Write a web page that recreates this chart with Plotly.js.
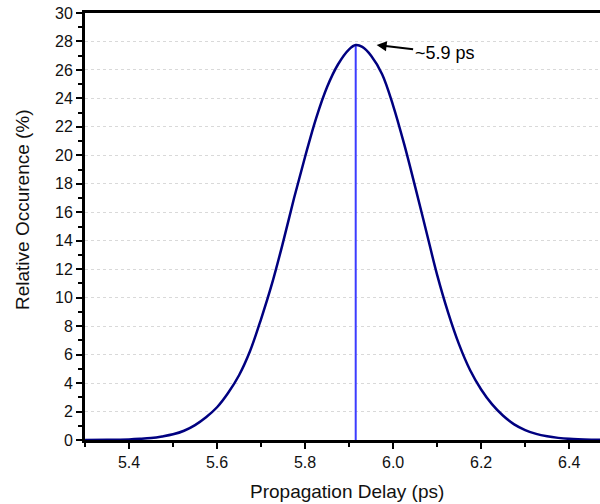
<!DOCTYPE html>
<html>
<head>
<meta charset="utf-8">
<script src="https://cdn.plot.ly/plotly-3.0.1.min.js"></script>
<style>html,body{margin:0;padding:0;background:#fff;}#chart{width:600px;height:504px;}</style>
</head>
<body>
<div id="chart"></div>
<script>
var delayPs = [5.30, 5.35, 5.40, 5.425, 5.45, 5.475, 5.50, 5.525, 5.55, 5.575, 5.60, 5.625, 5.65, 5.675, 5.70, 5.725, 5.75, 5.775, 5.80, 5.825, 5.85, 5.875, 5.90, 5.915, 5.93, 5.95, 5.975, 6.00, 6.025, 6.05, 6.075, 6.10, 6.125, 6.15, 6.175, 6.20, 6.225, 6.25, 6.275, 6.30, 6.325, 6.35, 6.375, 6.40, 6.45, 6.47];
var occurrence = [0.0, 0.01, 0.04, 0.08, 0.14, 0.25, 0.40, 0.65, 1.05, 1.6, 2.3, 3.3, 4.55, 6.25, 8.5, 11.0, 13.9, 17.0, 19.9, 22.6, 24.8, 26.4, 27.45, 27.75, 27.62, 27.0, 25.7, 23.5, 20.8, 17.8, 14.7, 11.6, 8.95, 6.7, 4.9, 3.55, 2.5, 1.7, 1.1, 0.7, 0.43, 0.26, 0.15, 0.08, 0.02, 0.01];
var peakX = [5.915, 5.915];
var peakY = [0, 27.75];
var peakLabel = "~5.9 ps";
var xTitle = "Propagation Delay (ps)";
var yTitle = "Relative Occurence (%)";

var traces = [
  {x: peakX, y: peakY, mode: 'lines', line: {color: 'rgb(60,60,255)', width: 2}, hoverinfo: 'skip', showlegend: false},
  {x: delayPs, y: occurrence, mode: 'lines', line: {color: '#000080', width: 2.5, shape: 'spline', smoothing: 1}, showlegend: false}
];

var fam = 'Liberation Sans, Arial, sans-serif';
var layout = {
  width: 600, height: 504,
  margin: {l: 85, r: 0, t: 13, b: 64},
  paper_bgcolor: '#fff', plot_bgcolor: '#fff',
  font: {family: fam, color: '#000'},
  xaxis: {
    range: [5.3, 6.47], dtick: 0.2, tickformat: '.1f',
    ticks: 'outside', ticklen: 6, tickwidth: 2, tickcolor: '#000',
    minor: {dtick: 0.1, ticks: 'outside', ticklen: 4, tickwidth: 2, tickcolor: '#000', showgrid: false},
    showline: true, linewidth: 3, linecolor: '#000', mirror: true,
    showgrid: false, zeroline: false,
    tickfont: {size: 16, family: fam, color: '#111'}
  },
  yaxis: {
    range: [0, 30], dtick: 2,
    ticks: 'outside', ticklen: 6, tickwidth: 2, tickcolor: '#000',
    minor: {dtick: 1, ticks: 'outside', ticklen: 4, tickwidth: 2, tickcolor: '#000', showgrid: false},
    showline: true, linewidth: 3, linecolor: '#000',
    showgrid: true, gridcolor: '#d9d9d9', griddash: 'dot', gridwidth: 1,
    zeroline: false,
    tickfont: {size: 16, family: fam, color: '#111'}
  },
  annotations: [
    {
      x: 5.9625, y: 27.75, xref: 'x', yref: 'y',
      text: peakLabel, showarrow: true, arrowhead: 2, arrowsize: 1, arrowwidth: 2, arrowcolor: '#000',
      ax: 68, ay: 8, font: {size: 18, family: fam, color: '#000'}
    },
    {
      x: 0.5087, y: -0.121, xref: 'paper', yref: 'paper', xanchor: 'center', yanchor: 'middle',
      text: xTitle, showarrow: false, font: {size: 19, family: fam, color: '#111'}
    },
    {
      x: -0.1223, y: 0.5386, xref: 'paper', yref: 'paper', xanchor: 'center', yanchor: 'middle',
      text: yTitle, textangle: -90, showarrow: false, font: {size: 19, family: fam, color: '#111'}
    }
  ]
};

Plotly.newPlot('chart', traces, layout, {staticPlot: true, displayModeBar: false});
</script>
</body>
</html>
